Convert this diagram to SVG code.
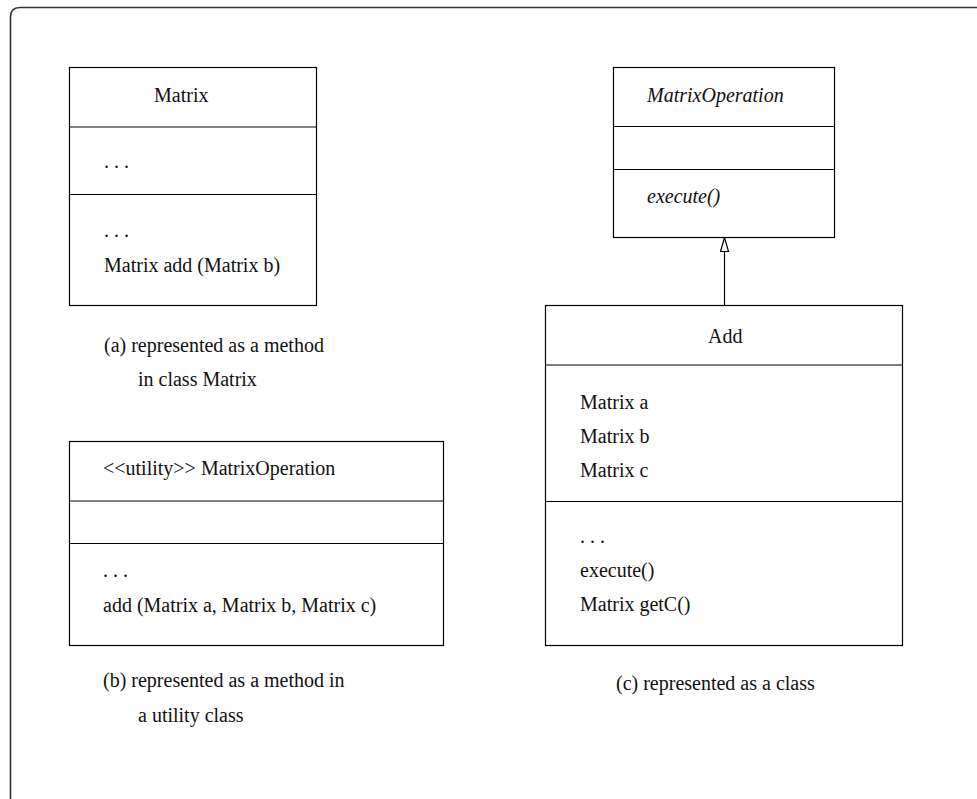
<svg xmlns="http://www.w3.org/2000/svg" width="977" height="799" viewBox="0 0 977 799">
  <style>
    .frame { fill: none; stroke: #333; stroke-width: 1.6; }
    .box { fill: #fff; stroke: #000; stroke-width: 1.2; }
    .sep { stroke: #000; stroke-width: 1.2; }
    .edge { stroke: #000; stroke-width: 1.2; fill: none; }
    .it { font-style: italic; }
  </style>
  <defs>
    <!-- hollow triangle for generalization, tip along +x -->
    <marker id="inherit" viewBox="0 0 16 10" refX="15" refY="5" markerWidth="16" markerHeight="10" markerUnits="userSpaceOnUse" orient="auto">
      <path d="M15,5 L1,1 L1,9 Z" fill="#fff" stroke="#000" stroke-width="1.2"/>
    </marker>
  </defs>

  <rect width="977" height="799" fill="#fff"/>
  <!-- page frame: rounded top-left corner, runs off the right and bottom -->
  <path class="frame" d="M10.5,799 L10.5,17 Q10.5,7.5 20,7.5 L977,7.5"/>

  <g font-family="'Liberation Serif', 'DejaVu Serif', serif" font-size="20" fill="#111">
    <!-- (a) Matrix class -->
    <g id="matrix">
      <rect class="box" x="69.5" y="67.5" width="247" height="238"/>
      <line class="sep" x1="69.5" y1="127" x2="316.5" y2="127"/>
      <line class="sep" x1="69.5" y1="194.5" x2="316.5" y2="194.5"/>
      <text x="154" y="102">Matrix</text>
      <text x="104" y="168">. . .</text>
      <text x="104" y="237">. . .</text>
      <text x="104" y="272">Matrix add (Matrix b)</text>
    </g>
    <g id="caption-a">
      <text x="104" y="352">(a) represented as a method</text>
      <text x="138" y="386">in class Matrix</text>
    </g>

    <!-- (b) utility class -->
    <g id="utility">
      <rect class="box" x="69.5" y="441.5" width="374" height="204"/>
      <line class="sep" x1="69.5" y1="501" x2="443.5" y2="501"/>
      <line class="sep" x1="69.5" y1="543.5" x2="443.5" y2="543.5"/>
      <text x="103" y="475">&lt;&lt;utility&gt;&gt; MatrixOperation</text>
      <text x="103" y="577">. . .</text>
      <text x="103" y="612">add (Matrix a, Matrix b, Matrix c)</text>
    </g>
    <g id="caption-b">
      <text x="103" y="687">(b) represented as a method in</text>
      <text x="138" y="722">a utility class</text>
    </g>

    <!-- (c) abstract MatrixOperation -->
    <g id="matrixoperation">
      <rect class="box" x="613.5" y="67.5" width="221" height="170"/>
      <line class="sep" x1="613.5" y1="126.5" x2="834.5" y2="126.5"/>
      <line class="sep" x1="613.5" y1="169.5" x2="834.5" y2="169.5"/>
      <text class="it" x="647" y="102">MatrixOperation</text>
      <text class="it" x="647" y="203">execute()</text>
    </g>

    <!-- (c) Add class -->
    <g id="add">
      <rect class="box" x="545.5" y="305.5" width="357" height="340"/>
      <line class="sep" x1="545.5" y1="365" x2="902.5" y2="365"/>
      <line class="sep" x1="545.5" y1="501.5" x2="902.5" y2="501.5"/>
      <text x="708" y="343">Add</text>
      <text x="580" y="409">Matrix a</text>
      <text x="580" y="443">Matrix b</text>
      <text x="580" y="477">Matrix c</text>
      <text x="580" y="543">. . .</text>
      <text x="580" y="577">execute()</text>
      <text x="580" y="611">Matrix getC()</text>
    </g>
    <g id="caption-c">
      <text x="616" y="690">(c) represented as a class</text>
    </g>
  </g>

  <!-- generalization: Add inherits MatrixOperation -->
  <g id="connectors">
    <line class="edge" x1="724.5" y1="305.5" x2="724.5" y2="237.5" marker-end="url(#inherit)"/>
  </g>
</svg>
